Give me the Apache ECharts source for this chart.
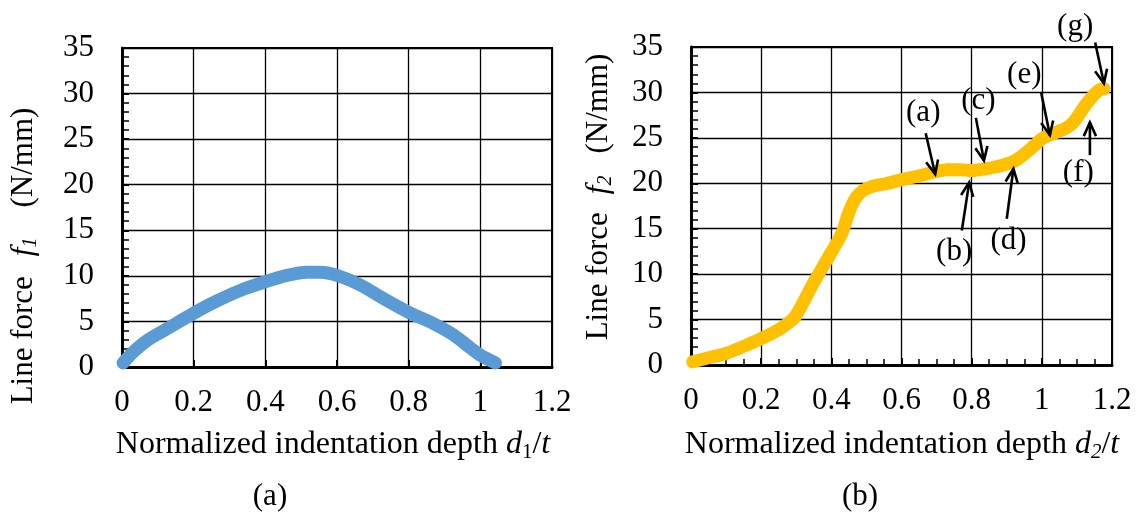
<!DOCTYPE html>
<html>
<head>
<meta charset="utf-8">
<script src="https://cdn.jsdelivr.net/npm/echarts@6/dist/echarts.min.js"></script>
<style>
  html, body { margin: 0; padding: 0; background: #fff; }
  #chart { width: 1139px; height: 524px; }
</style>
</head>
<body>
<div id="chart"></div>
<script>
// Panel (a): line force f1 against normalized indentation depth d1/t
const depth1 = [0.003, 0.03, 0.07, 0.126, 0.2, 0.265, 0.33, 0.4, 0.46, 0.516, 0.553, 0.6, 0.665, 0.73, 0.8, 0.87, 0.926, 0.972, 1.0, 1.042];
const force1 = [0.45, 1.6, 2.9, 4.2, 5.9, 7.25, 8.4, 9.35, 10.05, 10.4, 10.4, 10.05, 9.0, 7.5, 6.0, 4.75, 3.5, 2.1, 1.3, 0.45];

// Panel (b): line force f2 against normalized indentation depth d2/t
const depth2 = [0.005, 0.05, 0.1, 0.15, 0.2, 0.25, 0.28, 0.3, 0.35, 0.4, 0.43, 0.45, 0.47, 0.49, 0.52, 0.56, 0.6, 0.65, 0.7, 0.73, 0.77, 0.8, 0.84, 0.88, 0.92, 0.95, 0.98, 1.0, 1.015, 1.04, 1.07, 1.09, 1.11, 1.13, 1.15, 1.165, 1.178];
const force2 = [0.35, 0.8, 1.27, 2.05, 2.9, 3.9, 4.7, 5.5, 9.1, 12.4, 14.5, 16.8, 18.4, 19.2, 19.7, 20.0, 20.4, 20.8, 21.3, 21.5, 21.5, 21.4, 21.6, 21.9, 22.4, 23.2, 24.2, 24.9, 25.2, 25.6, 26.1, 26.7, 27.8, 28.9, 29.8, 30.3, 30.4];

// Axis ticks shared by both panels
const depthTicks = [0, 0.2, 0.4, 0.6, 0.8, 1.0, 1.2];
const forceTicks = [0, 5, 10, 15, 20, 25, 30, 35];

// Call-outs on panel (b): label, label anchor, arrow tail, arrow head (data units)
const noteLabels = ['(a)', '(b)', '(c)', '(d)', '(e)', '(f)', '(g)'];
const noteAt   = [[0.662, 27.8], [0.75, 12.5], [0.819, 29.1], [0.905, 13.7], [0.95, 31.9], [1.104, 21.2], [1.095, 37.2]];
const noteTail = [[0.669, 25.5], [0.772, 14.8], [0.812, 27.2], [0.9, 16.1], [0.998, 30.0], [1.137, 23.1], [1.152, 35.5]];
const noteHead = [[0.696, 21.0], [0.793, 20.1], [0.835, 22.5], [0.919, 21.6], [1.023, 25.3], [1.137, 26.7], [1.177, 31.0]];

const FONT = '"Liberation Serif", "Times New Roman", serif';
const FS = 31;

function pairs(xs, ys) { return xs.map((x, i) => [x, ys[i]]); }

function xAxisFor(gridIndex, minorSplit) {
  return {
    gridIndex, type: 'value',
    min: depthTicks[0], max: depthTicks[depthTicks.length - 1],
    interval: depthTicks[1] - depthTicks[0],
    axisLine: { show: true, onZero: false, lineStyle: { color: '#000', width: 3 } },
    axisTick: { show: true, inside: true, length: 7, lineStyle: { color: '#000', width: 2 } },
    minorTick: { show: minorSplit > 0, splitNumber: minorSplit || 5, length: 6, lineStyle: { color: '#000', width: 1.5 } },
    axisLabel: { color: '#000', fontFamily: FONT, fontSize: FS, margin: 20 },
    splitLine: { show: true, lineStyle: { color: '#000', width: 1.3 } }
  };
}
function yAxisFor(gridIndex) {
  return {
    gridIndex, type: 'value',
    min: forceTicks[0], max: forceTicks[forceTicks.length - 1],
    interval: forceTicks[1] - forceTicks[0],
    axisLine: { show: true, onZero: false, lineStyle: { color: '#000', width: 3 } },
    axisTick: { show: true, inside: true, length: 7, lineStyle: { color: '#000', width: 2 } },
    minorTick: { show: true, splitNumber: 5, length: 7, lineStyle: { color: '#000', width: 1.5 } },
    axisLabel: { color: '#000', fontFamily: FONT, fontSize: FS, margin: 28 },
    splitLine: { show: true, lineStyle: { color: '#000', width: 1.3 } }
  };
}
function curve(xi, data, color) {
  return {
    type: 'line', xAxisIndex: xi, yAxisIndex: xi, data,
    showSymbol: false, smooth: 0.3,
    lineStyle: { color, width: 13, cap: 'round', join: 'round' },
    z: 3, silent: true
  };
}

const chart = echarts.init(document.getElementById('chart'), null, { renderer: 'canvas' });

const baseRich = {
  n: { fontFamily: FONT, fontSize: 31, fill: '#000' },
  i: { fontFamily: FONT, fontSize: 31, fontStyle: 'italic', fill: '#000' },
  s: { fontFamily: FONT, fontSize: 20, fill: '#000', padding: [14, 0, 0, 0] },
  si: { fontFamily: FONT, fontSize: 20, fontStyle: 'italic', fill: '#000', padding: [14, 0, 0, 0] }
};
const titleRich = {
  n: { fontFamily: FONT, fontSize: 32, fill: '#000' },
  i: { fontFamily: FONT, fontSize: 32, fontStyle: 'italic', fill: '#000' },
  s: { fontFamily: FONT, fontSize: 21, fill: '#000', padding: [15, 0, 0, 0] },
  si: { fontFamily: FONT, fontSize: 21, fontStyle: 'italic', fill: '#000', padding: [15, 0, 0, 0] }
};
function richWith(extra) { return Object.assign({}, baseRich, extra); }

function textEl(x, y, text, rich, rotation) {
  return {
    type: 'text', x, y, rotation: rotation || 0, z: 20,
    style: { text, rich, align: 'center', verticalAlign: 'middle', fontFamily: FONT, fontSize: 31, fill: '#000' }
  };
}

const titles = [
  textEl(24, 256, '{n|Line force}{fa|f}{si|1}{ma|(N/mm)}',
    richWith({ fa: { fontFamily: FONT, fontSize: 31, fontStyle: 'italic', fill: '#000', padding: [0, 0, 0, 20] },
               ma: { fontFamily: FONT, fontSize: 31, fill: '#000', padding: [0, 0, 0, 30] } }), Math.PI / 2),
  textEl(599, 197, '{n|Line force}{fb|f}{si|2}{mb|(N/mm)}',
    richWith({ fb: { fontFamily: FONT, fontSize: 31, fontStyle: 'italic', fill: '#000', padding: [0, 0, 0, 18] },
               mb: { fontFamily: FONT, fontSize: 31, fill: '#000', padding: [0, 0, 0, 22] } }), Math.PI / 2),
  textEl(333, 445, '{n|Normalized indentation depth }{i|d}{s|1}{n|/}{i|t}', titleRich),
  textEl(902, 445, '{n|Normalized indentation depth }{i|d}{si|2}{n|/}{i|t}', titleRich),
  textEl(270, 497, '(a)', baseRich),
  textEl(860, 497, '(b)', baseRich)
];

chart.setOption({
  animation: false,
  backgroundColor: '#fff',
  grid: [
    { left: 122, top: 48, width: 430, height: 319, show: true, borderColor: '#000', borderWidth: 2, backgroundColor: 'transparent' },
    { left: 691, top: 47, width: 421, height: 318, show: true, borderColor: '#000', borderWidth: 2, backgroundColor: 'transparent' }
  ],
  xAxis: [xAxisFor(0, 0), xAxisFor(1, 4)],
  yAxis: [yAxisFor(0), yAxisFor(1)],
  series: [
    curve(0, pairs(depth1, force1), '#5B9BD5'),
    curve(1, pairs(depth2, force2), '#FFC000')
  ],
  graphic: titles
});

// Arrows and letters for the call-outs on panel (b)
function toPx(p) { return chart.convertToPixel({ gridIndex: 1 }, p); }
const notes = [];
noteLabels.forEach((lab, k) => {
  const at = toPx(noteAt[k]);
  const t = toPx(noteTail[k]);
  const h = toPx(noteHead[k]);
  const dx = h[0] - t[0], dy = h[1] - t[1];
  const len = Math.hypot(dx, dy);
  const ux = dx / len, uy = dy / len;
  const L = 15, a = 0.42;
  const wing = s => [h[0] - L * (ux * Math.cos(a) - s * uy * Math.sin(a)),
                     h[1] - L * (uy * Math.cos(a) + s * ux * Math.sin(a))];
  notes.push({ type: 'line', z: 30, shape: { x1: t[0], y1: t[1], x2: h[0], y2: h[1] },
               style: { stroke: '#000', lineWidth: 2.6 } });
  notes.push({ type: 'polyline', z: 30, shape: { points: [wing(1), h, wing(-1)] },
               style: { stroke: '#000', lineWidth: 2.6, fill: null } });
  notes.push(textEl(at[0], at[1], lab, baseRich));
});
chart.setOption({ graphic: titles.concat(notes) });
</script>
</body>
</html>
